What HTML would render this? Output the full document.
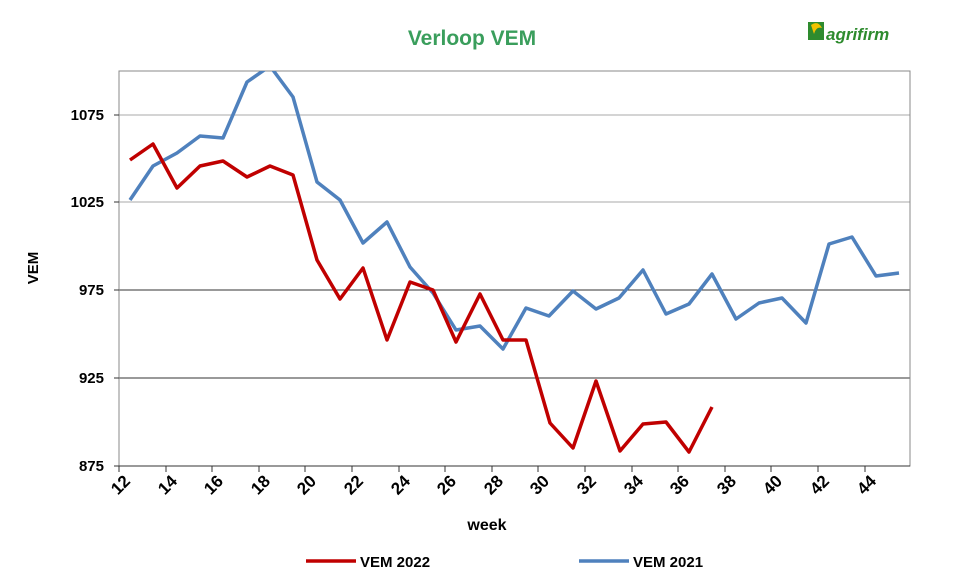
<!DOCTYPE html>
<html><head><style>body{margin:0;background:#fff}svg{display:block}</style></head><body>
<svg width="963" height="587" xmlns="http://www.w3.org/2000/svg" font-family="Liberation Sans, sans-serif">
<rect width="963" height="587" fill="#fff"/>
<text x="472" y="45" text-anchor="middle" font-size="21" font-weight="bold" fill="#3a9e5c">Verloop VEM</text>
<g transform="translate(808,20)">
<rect x="0" y="2" width="16" height="18" fill="#2e8b2e"/>
<path d="M3 5 Q10 0 14 8 Q8 6 6 14 Z" fill="#f2c200"/>
<text x="18" y="20" font-size="17" font-weight="bold" font-style="italic" fill="#2e8b2e">agrifirm</text>
</g>
<defs><clipPath id="c"><rect x="119" y="71" width="791" height="395"/></clipPath></defs>
<g stroke-width="1">
<line x1="119" y1="115" x2="910" y2="115" stroke="#aaa"/>
<line x1="119" y1="202" x2="910" y2="202" stroke="#aaa"/>
<line x1="119" y1="290" x2="910" y2="290" stroke="#333"/>
<line x1="119" y1="378" x2="910" y2="378" stroke="#333"/>
</g>
<rect x="119" y="71" width="791" height="395" fill="none" stroke="#888"/>
<line x1="119" y1="466" x2="910" y2="466" stroke="#333"/>
<g stroke="#333">
<line x1="114" y1="115" x2="119" y2="115"/><line x1="114" y1="202" x2="119" y2="202"/><line x1="114" y1="290" x2="119" y2="290"/><line x1="114" y1="378" x2="119" y2="378"/><line x1="114" y1="466" x2="119" y2="466"/>
</g>
<g font-size="15" font-weight="bold" fill="#000" text-anchor="end">
<text x="104" y="120">1075</text><text x="104" y="207">1025</text><text x="104" y="295">975</text><text x="104" y="383">925</text><text x="104" y="471">875</text>
</g>
<text transform="translate(38,268) rotate(-90)" text-anchor="middle" font-size="15" font-weight="bold">VEM</text>
<g font-size="17" font-weight="bold">
<g transform="translate(127,478) rotate(-45)"><text text-anchor="end" x="0" y="6">12</text></g>
<g transform="translate(174,478) rotate(-45)"><text text-anchor="end" x="0" y="6">14</text></g>
<g transform="translate(220,478) rotate(-45)"><text text-anchor="end" x="0" y="6">16</text></g>
<g transform="translate(267,478) rotate(-45)"><text text-anchor="end" x="0" y="6">18</text></g>
<g transform="translate(313,478) rotate(-45)"><text text-anchor="end" x="0" y="6">20</text></g>
<g transform="translate(360,478) rotate(-45)"><text text-anchor="end" x="0" y="6">22</text></g>
<g transform="translate(407,478) rotate(-45)"><text text-anchor="end" x="0" y="6">24</text></g>
<g transform="translate(453,478) rotate(-45)"><text text-anchor="end" x="0" y="6">26</text></g>
<g transform="translate(500,478) rotate(-45)"><text text-anchor="end" x="0" y="6">28</text></g>
<g transform="translate(546,478) rotate(-45)"><text text-anchor="end" x="0" y="6">30</text></g>
<g transform="translate(593,478) rotate(-45)"><text text-anchor="end" x="0" y="6">32</text></g>
<g transform="translate(640,478) rotate(-45)"><text text-anchor="end" x="0" y="6">34</text></g>
<g transform="translate(686,478) rotate(-45)"><text text-anchor="end" x="0" y="6">36</text></g>
<g transform="translate(733,478) rotate(-45)"><text text-anchor="end" x="0" y="6">38</text></g>
<g transform="translate(779,478) rotate(-45)"><text text-anchor="end" x="0" y="6">40</text></g>
<g transform="translate(826,478) rotate(-45)"><text text-anchor="end" x="0" y="6">42</text></g>
<g transform="translate(873,478) rotate(-45)"><text text-anchor="end" x="0" y="6">44</text></g>
</g>
<g stroke="#333">
<path d="M119 466v6M166 466v6M212 466v6M259 466v6M305 466v6M352 466v6M399 466v6M445 466v6M492 466v6M538 466v6M585 466v6M632 466v6M678 466v6M725 466v6M771 466v6M818 466v6M865 466v6"/>
</g>
<text x="487" y="530" text-anchor="middle" font-size="16" font-weight="bold">week</text>
<g clip-path="url(#c)" fill="none" stroke-width="3.5" stroke-linejoin="round">
<polyline stroke="#4f81bd" points="130,200 153,166 177,153 200,136 223,138 247,82 270,66 293,97 317,182 340,200 363,243 387,222 410,267 433,293 456,330 480,326 503,349 526,308 549,316 573,291 596,309 619,298 643,270 666,314 689,304 712,274 736,319 759,303 782,298 806,323 829,244 852,237 876,276 899,273"/>
<polyline stroke="#c00000" points="130,160 153,144 177,188 200,166 223,161 247,177 270,166 293,175 317,260 340,299 363,268 387,340 410,282 433,290 456,342 480,294 503,340 526,340 550,423 573,448 596,381 620,451 643,424 666,422 689,452 712,407"/>
</g>
<line x1="306" y1="561" x2="356" y2="561" stroke="#c00000" stroke-width="3.5"/>
<text x="360" y="567" font-size="15" font-weight="bold">VEM 2022</text>
<line x1="579" y1="561" x2="629" y2="561" stroke="#4f81bd" stroke-width="3.5"/>
<text x="633" y="567" font-size="15" font-weight="bold">VEM 2021</text>
</svg>
</body></html>
